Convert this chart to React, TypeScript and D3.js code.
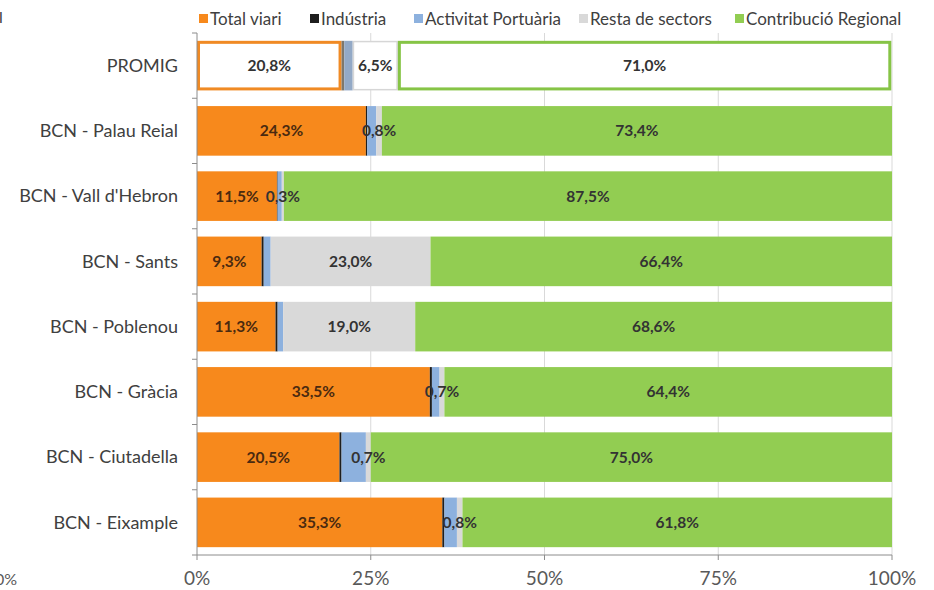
import React from "react";
import * as d3 from "d3";

const categories = [
  "PROMIG",
  "BCN - Palau Reial",
  "BCN - Vall d'Hebron",
  "BCN - Sants",
  "BCN - Poblenou",
  "BCN - Gràcia",
  "BCN - Ciutadella",
  "BCN - Eixample",
];

const seriesNames = [
  "Total viari",
  "Indústria",
  "Activitat Portuària",
  "Resta de sectors",
  "Contribució Regional",
];

const totalViari = [20.8, 24.3, 11.5, 9.3, 11.3, 33.5, 20.5, 35.3];
const industria = [0.4, 0.2, 0.1, 0.3, 0.3, 0.3, 0.3, 0.3];
const portuaria = [1.2, 1.3, 0.6, 1.0, 0.8, 1.1, 3.5, 1.8];
const restaSectors = [6.5, 0.8, 0.3, 23.0, 19.0, 0.7, 0.7, 0.8];
const contribRegional = [71.0, 73.4, 87.5, 66.4, 68.6, 64.4, 75.0, 61.8];

const xTicks = [0, 25, 50, 75, 100];
const labeledSeries = [0, 3, 4];

const colors = ["#F7891C", "#1E1E1E", "#8DB1DE", "#D9D9D9", "#92CD52"];
const promigColors = ["#F08A24", "#7D776C", "#93A9C6", "#D6D6D6", "#86C446"];

const W = 934;
const H = 590;
const FONT = "Lato, 'Open Sans', 'DejaVu Sans', sans-serif";

const fmt = (v: number) => v.toFixed(1).replace(".", ",") + "%";

export default function App() {
  const x = d3.scaleLinear().domain([0, 100]).range([197, 892]);
  const y = d3
    .scaleBand<string>()
    .domain(categories)
    .range([33, 555])
    .paddingInner(0.24)
    .paddingOuter(0.12);

  const allSeries = [totalViari, industria, portuaria, restaSectors, contribRegional];
  const table = categories.map((c, i) => {
    const row: any = { cat: c };
    seriesNames.forEach((s, j) => (row[s] = allSeries[j][i]));
    return row;
  });
  const stacked = d3.stack<any>().keys(seriesNames)(table);

  const step = y.step();
  const boundaries = categories.map((_, i) => 33 + i * step).concat([555]);

  const legendX = [199, 310, 414, 579, 735];

  return (
    <svg
      width={W}
      height={H}
      style={{ position: "absolute", left: 0, top: 0, background: "#fff" }}
      fontFamily={FONT}
    >
      <rect width={W} height={H} fill="#fff" />
      {/* fragments of neighbouring chart */}
      <text x={-1} y={23} fontSize={16} fill="#404040">l</text>
      <text x={-5} y={585} fontSize={16} fill="#595959">0%</text>

      {/* gridlines */}
      {xTicks.slice(1).map((t) => (
        <line key={t} x1={x(t)} x2={x(t)} y1={33} y2={555} stroke="#D9D9D9" strokeWidth={1} />
      ))}

      {/* bars */}
      {stacked.map((layer, j) =>
        layer.map((d, i) => {
          const x0 = x(d[0]);
          const x1 = x(d[1]);
          const yy = y(categories[i])!;
          const h = y.bandwidth();
          if (i === 0) {
            if (j === 0 || j === 3 || j === 4) {
              const sw = j === 3 ? 1.5 : 3;
              return (
                <rect
                  key={j + "-" + i}
                  x={x0 + sw / 2}
                  y={yy + sw / 2}
                  width={Math.max(0, x1 - x0 - sw)}
                  height={h - sw}
                  fill="#fff"
                  stroke={promigColors[j]}
                  strokeWidth={sw}
                />
              );
            }
            return (
              <rect key={j + "-" + i} x={x0} y={yy} width={x1 - x0} height={h} fill={promigColors[j]} />
            );
          }
          return <rect key={j + "-" + i} x={x0} y={yy} width={x1 - x0} height={h} fill={colors[j]} />;
        })
      )}

      {/* labels */}
      {stacked.map((layer, j) =>
        labeledSeries.includes(j)
          ? layer.map((d, i) => (
              <text
                key={"l" + j + "-" + i}
                x={(x(d[0]) + x(d[1])) / 2}
                y={y(categories[i])! + y.bandwidth() / 2}
                dy="0.35em"
                textAnchor="middle"
                fontSize={15.5}
                fontWeight="bold"
                fill={j === 0 && i > 0 ? "#4A2A10" : "#333333"}
              >
                {fmt(allSeries[j][i])}
              </text>
            ))
          : null
      )}

      {/* y axis */}
      <line x1={197} x2={197} y1={33} y2={555} stroke="#8C8C8C" strokeWidth={1} />
      {boundaries.map((b, i) => (
        <line key={"yt" + i} x1={192} x2={197} y1={b} y2={b} stroke="#8C8C8C" strokeWidth={1} />
      ))}
      {categories.map((c) => (
        <text
          key={"c" + c}
          x={178}
          y={y(c)! + y.bandwidth() / 2}
          dy="0.35em"
          textAnchor="end"
          fontSize={18}
          fill="#404040"
        >
          {c}
        </text>
      ))}

      {/* x axis */}
      <line x1={197} x2={892} y1={555} y2={555} stroke="#8C8C8C" strokeWidth={1} />
      {xTicks.map((t) => (
        <g key={"xt" + t}>
          <line x1={x(t)} x2={x(t)} y1={555} y2={560} stroke="#8C8C8C" strokeWidth={1} />
          <text x={x(t)} y={585} textAnchor="middle" fontSize={19} fill="#595959">
            {t + "%"}
          </text>
        </g>
      ))}

      {/* legend */}
      {seriesNames.map((s, j) => (
        <g key={"lg" + s}>
          <rect x={legendX[j]} y={14} width={9} height={9} fill={colors[j]} />
          <text x={legendX[j] + 11} y={19} dy="0.35em" fontSize={17} fill="#404040">
            {s}
          </text>
        </g>
      ))}
    </svg>
  );
}
